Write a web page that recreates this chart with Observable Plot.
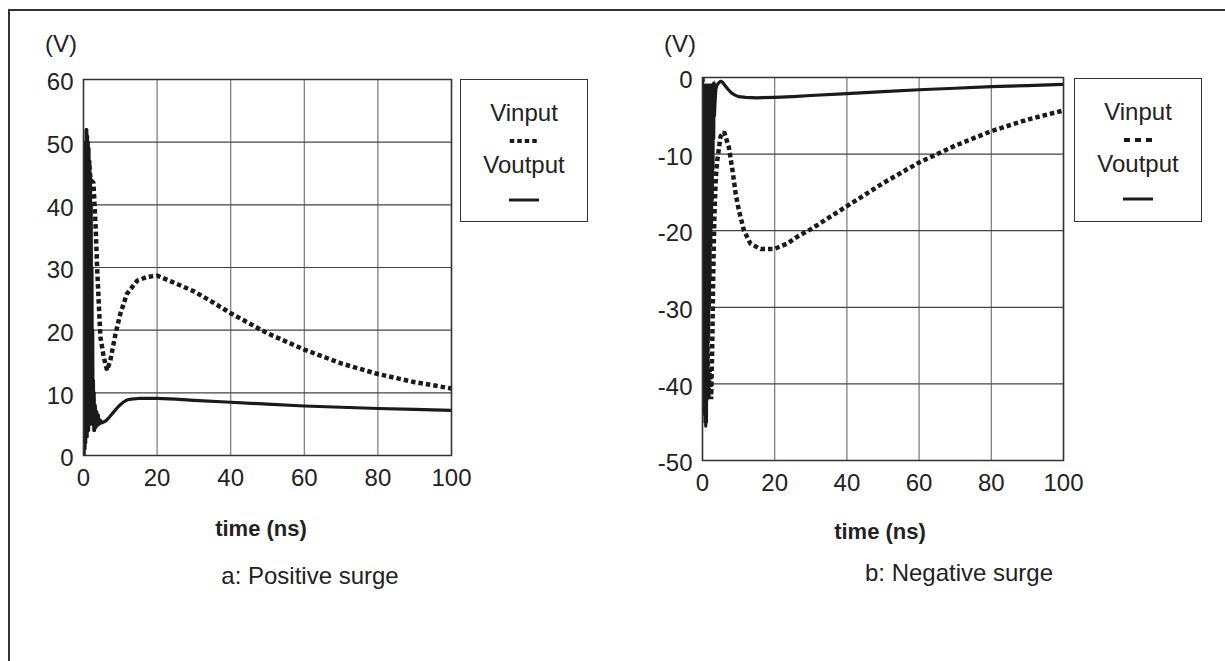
<!DOCTYPE html>
<html>
<head>
<meta charset="utf-8">
<script src="https://cdn.jsdelivr.net/npm/d3@7"></script>
<script src="https://cdn.jsdelivr.net/npm/@observablehq/plot@0.6"></script>
<style>
  html, body { margin: 0; padding: 0; background: #fff; }
  body { width: 1225px; height: 661px; overflow: hidden; position: relative;
         font-family: "Liberation Sans", Arial, sans-serif; color: #222; }
  #outer { position: absolute; left: 8px; top: 9px; width: 1240px; height: 700px;
           border-top: 2px solid #333; border-left: 2px solid #333; }
  .lbl { position: absolute; font-size: 24px; white-space: nowrap; line-height: 1; }
  .xt { position: absolute; font-size: 22px; font-weight: bold; white-space: nowrap; line-height: 1; }
  .legend { position: absolute; border: 1.5px solid #333; box-sizing: border-box; background: #fff; }
  .legend .t { position: absolute; left: 0; right: 0; text-align: center; font-size: 24px; line-height: 1; }
  .legend svg { position: absolute; }
</style>
</head>
<body>
<div id="outer"></div>
<div id="root"></div>
<script>
// ---- tick labels ----
const xTicks = [0, 20, 40, 60, 80, 100];
const posYTicks = [0, 10, 20, 30, 40, 50, 60];
const negYTicks = [-50, -40, -30, -20, -10, 0];

// ---- a: Positive surge ----
const posInT = [0, 0.3, 0.6, 0.9, 1.2, 1.5, 1.9, 2.7, 3.3, 3.7, 4.2, 4.6, 5.5, 6.4, 7.3, 8.7, 10, 11.8, 14.6, 17.3, 20, 24.5, 30, 35, 40, 50, 60, 70, 80, 90, 100];
const posInV = [0, 48, 30, 50, 38, 47, 44, 43.5, 36.4, 30, 23.7, 18.9, 15.7, 13.6, 15.2, 19.4, 22.6, 25.8, 27.9, 28.5, 28.7, 27.6, 26.2, 24.5, 22.7, 19.5, 16.9, 14.7, 13.0, 11.7, 10.7];
const posOutT = [0, 0.1, 0.2, 0.3, 0.4, 0.5, 0.6, 0.7, 0.8, 0.9, 1.0, 1.1, 1.2, 1.3, 1.4, 1.5, 1.6, 1.7, 1.8, 1.9, 2.0, 2.1, 2.2, 2.3, 2.4, 2.5, 2.6, 2.7, 2.8, 2.9, 3.0, 3.2, 3.4, 3.6, 3.8, 4.0, 4.3, 4.6, 5, 6, 7, 8, 9, 10, 11, 12, 13, 15, 20, 25, 30, 40, 50, 60, 70, 80, 90, 100];
const posOutV = [0, 30, 2, 45, 1, 50, 2, 52, 3, 52, 3, 51, 4, 50, 4, 49, 5, 47, 5, 45, 5, 40, 5, 30, 5, 20, 5, 12, 4, 10, 4, 8, 4.5, 7, 4.8, 6.5, 5, 5.6, 5.2, 5.5, 6.1, 6.8, 7.5, 8.1, 8.6, 8.9, 9.0, 9.1, 9.1, 9.0, 8.8, 8.5, 8.2, 7.9, 7.7, 7.5, 7.35, 7.2];

// ---- b: Negative surge ----
const negInT = [0, 0.3, 0.6, 0.9, 1.2, 1.6, 2.0, 2.4, 2.7, 3.0, 3.3, 3.7, 4.1, 5, 6, 7.3, 8.3, 9.2, 10.1, 11.5, 13.3, 16.1, 19.8, 23.4, 26.2, 30, 40, 50, 60, 70, 80, 90, 100];
const negInV = [0, -35, -20, -42, -30, -42, -38, -42, -35, -25, -18, -13, -10.8, -7.7, -7.1, -9.1, -12.1, -15.2, -17.4, -20, -21.7, -22.4, -22.4, -21.7, -20.8, -19.8, -16.8, -13.8, -11.1, -8.9, -7.0, -5.5, -4.3];
const negOutT = [0, 0.1, 0.2, 0.3, 0.4, 0.5, 0.6, 0.7, 0.8, 0.9, 1.0, 1.1, 1.2, 1.3, 1.4, 1.5, 1.6, 1.7, 1.8, 1.9, 2.0, 2.1, 2.2, 2.3, 2.4, 2.5, 2.6, 2.7, 2.8, 2.9, 3.0, 3.1, 3.2, 3.3, 3.5, 3.7, 4, 4.5, 5, 5.5, 6, 7, 8, 9, 10, 12, 15, 20, 25, 30, 40, 50, 60, 70, 80, 90, 100];
const negOutV = [0, -30, -1, -40, -1, -44, -1, -45, -1, -45.5, -1, -45, -1, -42, -1, -38, -1, -34, -1, -30, -1, -26, -1, -22, -1, -19, -1, -16, -1, -12, -0.8, -8, -0.7, -5, -3, -1.5, -1, -0.7, -0.5, -0.6, -0.9, -1.5, -2.0, -2.3, -2.5, -2.6, -2.65, -2.6, -2.5, -2.35, -2.1, -1.85, -1.6, -1.4, -1.2, -1.05, -0.9];

const rows = (ts, vs) => ts.map((t, i) => ({t, v: vs[i]}));

function chart({inRows, outRows, yDomain, yTicks, width, height, mL, mR, mT, mB}) {
  return Plot.plot({
    width, height,
    marginLeft: mL, marginRight: mR, marginTop: mT, marginBottom: mB,
    x: {domain: [0, 100], label: null},
    y: {domain: yDomain, label: null},
    style: {fontFamily: "'Liberation Sans', Arial, sans-serif", color: "#222", background: "transparent", overflow: "visible"},
    marks: [
      Plot.gridX(xTicks, {stroke: "#777", strokeOpacity: 1, strokeWidth: 1.2}),
      Plot.gridY(yTicks, {stroke: "#444", strokeOpacity: 1, strokeWidth: 1.2}),
      Plot.line(inRows, {x: "t", y: "v", stroke: "#1a1a1a", strokeWidth: 4.5, strokeDasharray: "4.5,3", strokeLinecap: "butt", strokeLinejoin: "miter", clip: true}),
      Plot.line(outRows, {x: "t", y: "v", stroke: "#1a1a1a", strokeWidth: 3.2, clip: true}),
      Plot.frame({stroke: "#333", strokeWidth: 1.5}),
      Plot.axisX(xTicks, {tickSize: 0, tickPadding: 13, fontSize: 24, label: null, fill: "#222", tickFormat: d => String(d)}),
      Plot.axisY(yTicks, {tickSize: 0, tickPadding: 10, fontSize: 24, dy: 3, label: null, fill: "#222", tickFormat: d => String(d)})
    ]
  });
}

const root = document.getElementById("root");

function place(el, left, top) {
  el.style.position = "absolute";
  el.style.left = left + "px";
  el.style.top = top + "px";
  root.appendChild(el);
}

// left chart: frame x 83..451, y 79..455
place(chart({inRows: rows(posInT, posInV), outRows: rows(posOutT, posOutV), yDomain: [0, 60], yTicks: posYTicks,
  width: 600, height: 500, mL: 83, mR: 149, mT: 79, mB: 45}), 0, 0);
// right chart: frame x 702..1063, y 77..460
place(chart({inRows: rows(negInT, negInV), outRows: rows(negOutT, negOutV), yDomain: [-50, 0], yTicks: negYTicks,
  width: 600, height: 500, mL: 82, mR: 157, mT: 77, mB: 40}), 620, 0);

function addText(cls, txt, left, top, center) {
  const d = document.createElement("div");
  d.className = cls;
  d.textContent = txt;
  d.style.left = left + "px";
  d.style.top = top + "px";
  if (center) d.style.transform = "translateX(-50%)";
  root.appendChild(d);
}
addText("lbl", "(V)", 45, 32);
addText("lbl", "(V)", 664, 32);
addText("xt", "time (ns)", 261, 518, true);
addText("xt", "time (ns)", 880, 521, true);
addText("lbl", "a: Positive surge", 310, 564, true);
addText("lbl", "b: Negative surge", 959, 561, true);

function legend(left, top, w, h, dash, dashLen) {
  const box = document.createElement("div");
  box.className = "legend";
  box.style.left = left + "px"; box.style.top = top + "px";
  box.style.width = w + "px"; box.style.height = h + "px";
  const t1 = document.createElement("div"); t1.className = "t"; t1.textContent = "Vinput"; t1.style.top = "21px";
  const t2 = document.createElement("div"); t2.className = "t"; t2.textContent = "Voutput"; t2.style.top = "73px";
  box.appendChild(t1); box.appendChild(t2);
  const ns = "http://www.w3.org/2000/svg";
  const svg = document.createElementNS(ns, "svg");
  svg.setAttribute("width", w); svg.setAttribute("height", h);
  svg.style.left = "-1.5px"; svg.style.top = "-1.5px";
  const cx = w / 2;
  const l1 = document.createElementNS(ns, "line");
  l1.setAttribute("x1", cx - dashLen / 2); l1.setAttribute("x2", cx + dashLen / 2);
  l1.setAttribute("y1", 62); l1.setAttribute("y2", 62);
  l1.setAttribute("stroke", "#1a1a1a"); l1.setAttribute("stroke-width", 4); l1.setAttribute("stroke-dasharray", dash);
  const l2 = document.createElementNS(ns, "line");
  l2.setAttribute("x1", cx - 15); l2.setAttribute("x2", cx + 15);
  l2.setAttribute("y1", 121); l2.setAttribute("y2", 121);
  l2.setAttribute("stroke", "#1a1a1a"); l2.setAttribute("stroke-width", 3);
  svg.appendChild(l1); svg.appendChild(l2);
  box.appendChild(svg);
  root.appendChild(box);
}
legend(460, 79, 128, 143, "4.5,3", 28.5);
legend(1074, 78, 128, 144, "6,5", 28);
</script>
</body>
</html>
